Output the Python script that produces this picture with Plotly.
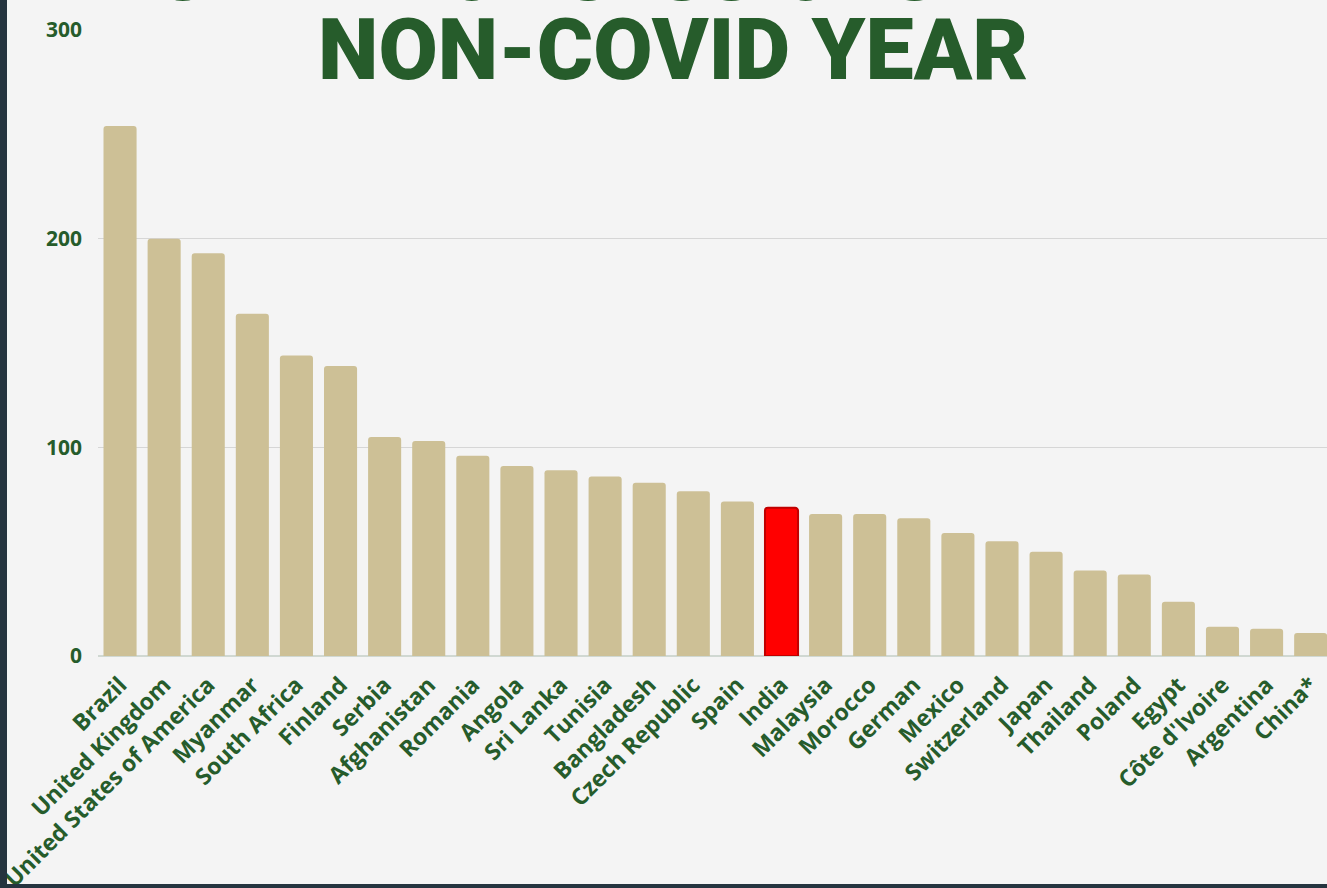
import plotly.graph_objects as go

countries = ["Brazil", "United Kingdom", "United States of America", "Myanmar", "South Africa",
             "Finland", "Serbia", "Afghanistan", "Romania", "Angola", "Sri Lanka", "Tunisia",
             "Bangladesh", "Czech Republic", "Spain", "India", "Malaysia", "Morocco", "German",
             "Mexico", "Switzerland", "Japan", "Thailand", "Poland", "Egypt", "Côte d'Ivoire",
             "Argentina", "China*"]
sessions = [254, 200, 193, 164, 144, 139, 105, 103, 96, 91, 89, 86, 83, 79, 74, 71, 68, 68, 66,
            59, 55, 50, 41, 39, 26, 14, 13, 11]
highlight = "India"
y_ticks = [0, 100, 200, 300]
title_line1 = "NUMBER OF SESSIONS HELD IN"
title_line2 = "NON-COVID YEAR"

BAR = "#cdc096"
GREEN = "#265c2b"

colors = ["#ff0000" if c == highlight else BAR for c in countries]
line_colors = ["#c00000" if c == highlight else BAR for c in countries]
line_widths = [2 if c == highlight else 0 for c in countries]

W, H = 1327, 888
L, R, T, B = 98, 0, 30, 232
pw, ph = W - L - R, H - T - B

fig = go.Figure(go.Bar(
    x=countries, y=sessions,
    marker=dict(color=colors, line=dict(color=line_colors, width=line_widths)),
))

def px_x(p):
    return (p - L) / pw

def px_y(p):
    return 1 - (p - T) / ph

fig.update_layout(
    width=W, height=H,
    margin=dict(l=L, r=R, t=T, b=B, pad=0),
    paper_bgcolor="#f4f4f4", plot_bgcolor="#f4f4f4",
    bargap=0.25, barcornerradius=3,
    showlegend=False,
    font=dict(family="Open Sans", color=GREEN),
    xaxis=dict(range=[-0.5, 27.37], tickangle=-45, showgrid=False, showline=False,
               ticks="", ticklabelstandoff=10,
               tickfont=dict(size=23, color=GREEN, family="Open Sans", weight="bold"),
               automargin=False),
    yaxis=dict(range=[0, 300], tickvals=y_ticks, showgrid=True, gridcolor="#d6d6d6", gridwidth=1,
               zeroline=True, zerolinecolor="#d0d8d2", zerolinewidth=2, ticks="",
               ticklabelstandoff=15,
               tickfont=dict(size=21, color=GREEN, family="Open Sans", weight="bold"),
               automargin=False),
    annotations=[
        dict(text=title_line1, xref="paper", yref="paper",
             x=px_x(675), y=px_y(-27), xanchor="center", yanchor="middle", showarrow=False,
             font=dict(size=79, color=GREEN, family="Roboto", weight=900)),
        dict(text=title_line2, xref="paper", yref="paper",
             x=px_x(673), y=px_y(50), xanchor="center", yanchor="middle", showarrow=False,
             font=dict(size=86, color=GREEN, family="Roboto", weight=900)),
    ],
    shapes=[
        dict(type="rect", xref="paper", yref="paper", x0=px_x(0), x1=px_x(7), y0=px_y(H), y1=px_y(0),
             fillcolor="#25343f", line=dict(width=0), layer="above"),
        dict(type="rect", xref="paper", yref="paper", x0=px_x(0), x1=px_x(W), y0=px_y(H), y1=px_y(884),
             fillcolor="#25343f", line=dict(width=0), layer="above"),
    ],
)

fig.write_html("out.html", config={"displayModeBar": False},
               post_script="document.body.style.margin='0';document.body.style.overflow='hidden';")
